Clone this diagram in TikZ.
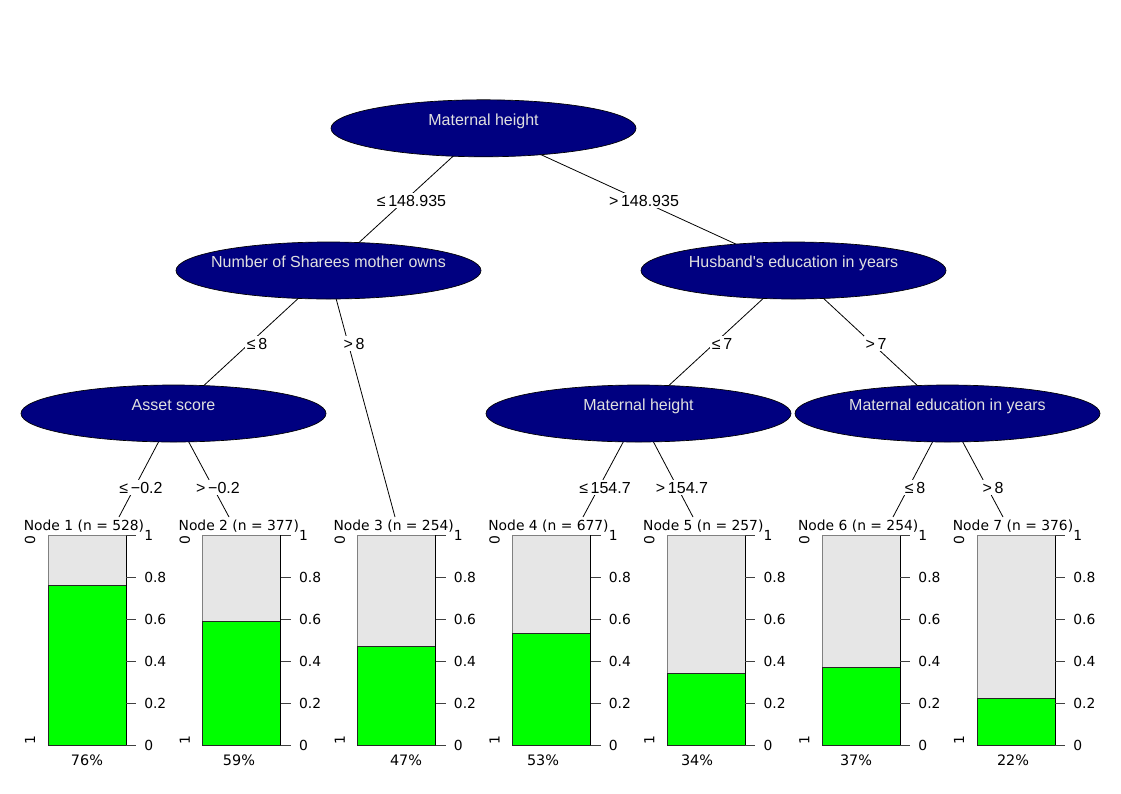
\documentclass[tikz,border=0pt]{standalone}
\usepackage{fontspec}
\setmainfont{DejaVu Sans}
\newfontfamily\libsans{Liberation Sans}
\usetikzlibrary{shapes.geometric,backgrounds}
\definecolor{navyfill}{HTML}{000080}
\definecolor{barbg}{HTML}{E6E6E6}
\definecolor{bargreen}{HTML}{00FF00}
\newcommand{\etext}[1]{\raisebox{2.4pt}[0pt][0pt]{\makebox[0pt]{#1}}}
\begin{document}
\begin{tikzpicture}[x=0.75pt,y=-0.75pt,
  innernode/.style={ellipse, draw=black, line width=0.5pt, fill=navyfill,
    minimum width=228.75pt, minimum height=42.75pt, inner sep=0pt,
    text=white!88!black, font=\libsans\fontsize{12pt}{14pt}\selectfont},
  elab/.style={fill=white, inner sep=1.5pt, anchor=base,
    font=\libsans\fontsize{12pt}{14pt}\selectfont},
  edgeline/.style={line width=0.6pt},
  small/.style={font=\fontsize{10.4pt}{12pt}\selectfont, inner sep=0pt},
  pctstyle/.style={font=\fontsize{10.8pt}{12pt}\selectfont, inner sep=0pt}]
\useasboundingbox (0,0) rectangle (1121,793);

% inner nodes
\node[innernode] (n1) at (483.5,128.3) {\etext{Maternal height}};
\node[innernode] (n2) at (328.5,270.5) {\etext{Number of Sharees mother owns}};
\node[innernode] (n3) at (793.5,270.5) {\etext{Husband's education in years}};
\node[innernode] (n4) at (173.5,413.5) {\etext{Asset score}};
\node[innernode] (n5) at (638.5,413.5) {\etext{Maternal height}};
\node[innernode] (n6) at (947.5,413.5) {\etext{Maternal education in years}};

% terminal edge ends
\coordinate (t1) at (119,517);
\coordinate (t2) at (229,517);
\coordinate (t3) at (395,517);
\coordinate (t4) at (583,517);
\coordinate (t5) at (693,517);
\coordinate (t6) at (893,517);
\coordinate (t7) at (1003,517);

\begin{pgfonlayer}{background}
\draw[edgeline] (n1.center) -- (n2.center);
\draw[edgeline] (n1.center) -- (n3.center);
\draw[edgeline] (n2.center) -- (n4.center);
\draw[edgeline] (n2.center) -- (t3);
\draw[edgeline] (n3.center) -- (n5.center);
\draw[edgeline] (n3.center) -- (n6.center);
\draw[edgeline] (n4.center) -- (t1);
\draw[edgeline] (n4.center) -- (t2);
\draw[edgeline] (n5.center) -- (t4);
\draw[edgeline] (n5.center) -- (t5);
\draw[edgeline] (n6.center) -- (t6);
\draw[edgeline] (n6.center) -- (t7);
\end{pgfonlayer}

% edge labels
\node[elab] (e12) at (411.5,206) {≤\,148.935};
\node[elab] (e13) at (644,206) {>\,148.935};
\node[elab] (e24) at (257,349) {≤\,8};
\node[elab] (e2t) at (354,349) {>\,8};
\node[elab] (e35) at (722,349) {≤\,7};
\node[elab] (e36) at (876,349) {>\,7};
\node[elab] (e41) at (141,493) {≤\,−0.2};
\node[elab] (e42) at (218,493) {>\,−0.2};
\node[elab] (e54) at (605,493) {≤\,154.7};
\node[elab] (e55) at (682,493) {>\,154.7};
\node[elab] (e66) at (915,493) {≤\,8};
\node[elab] (e67) at (993,493) {>\,8};

% terminal panels
\foreach \i/\xl/\p/\pc/\n/\px in {1/48/0.76/76/528/87, 2/202.8/0.59/59/377/239, 3/357.7/0.47/47/254/406,
    4/512.5/0.53/53/677/543, 5/667.3/0.34/34/257/697, 6/822.2/0.37/37/254/856, 7/977/0.22/22/376/1013}{
  \filldraw[fill=barbg, draw=gray, line width=0.6pt] (\xl,535) rectangle ({\xl+78},745);
  \filldraw[fill=bargreen, draw=black!85, line width=0.6pt] (\xl,745) rectangle ({\xl+78},{745-210*\p});
  \draw[line width=0.6pt] ({\xl+78},535) -- ({\xl+78},745);
  \foreach \t/\lab in {0/0, 0.2/0.2, 0.4/0.4, 0.6/0.6, 0.8/0.8, 1/1}{
    \draw[line width=0.6pt, black!75] ({\xl+78},{745-210*\t}) -- ++(10,0);
    \node[small, anchor=west] (tk\i-\lab) at ({\xl+96},{745-210*\t}) {\lab};
  }
  \node[small, rotate=90] (za\i) at ({\xl-18},540) {0};
  \node[small, rotate=90] (zb\i) at ({\xl-18},740) {1};
  \node[small, anchor=base] (lab\i) at ({\xl+36},530) {Node \i\ (n = \n)};
  \node[pctstyle, anchor=base] (pct\i) at (\px,765) {\pc\%};
}
\end{tikzpicture}
\end{document}
